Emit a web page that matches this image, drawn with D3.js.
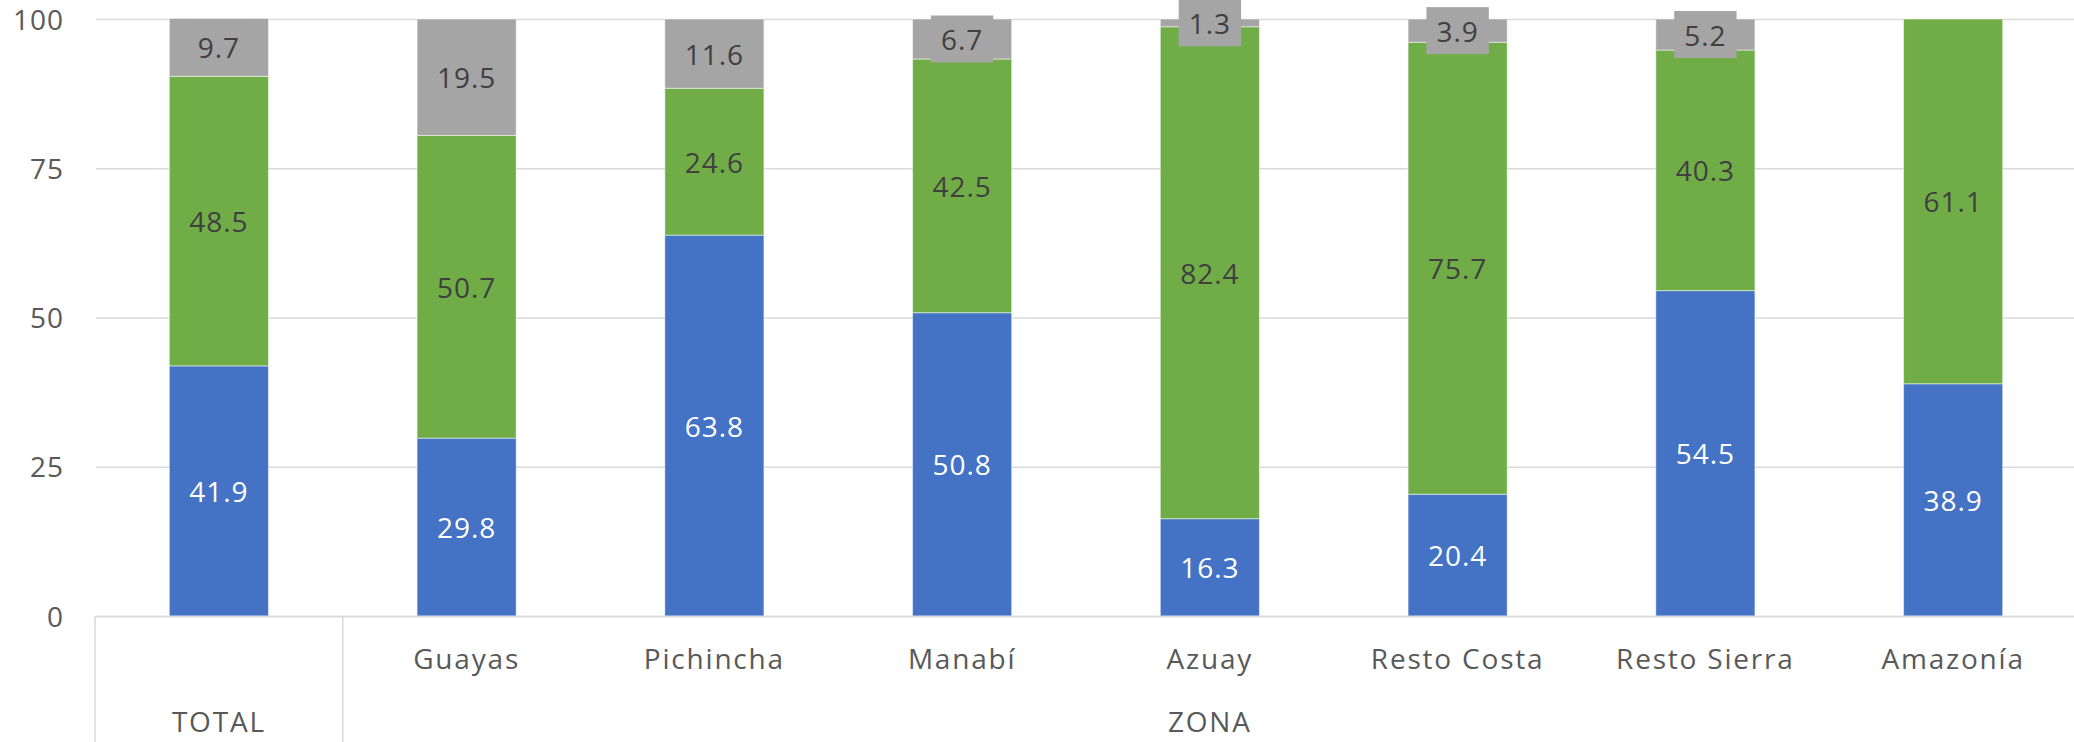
<!DOCTYPE html>
<html>
<head>
<meta charset="utf-8">
<script src="https://cdn.jsdelivr.net/npm/d3@7"></script>
<style>
  body { margin: 0; background: #fff; }
  svg text { font-family: "Open Sans", sans-serif; }
</style>
</head>
<body>
<script>
var svgWidth = 2074;
var svgHeight = 742;

// DATOS
var zonas = ["TOTAL", "Guayas", "Pichincha", "Manabí", "Azuay", "Resto Costa", "Resto Sierra", "Amazonía"];
var etiquetasZona = ["", "Guayas", "Pichincha", "Manabí", "Azuay", "Resto Costa", "Resto Sierra", "Amazonía"];
var grupos = ["TOTAL", "ZONA"];
var grupoDeZona = [0, 1, 1, 1, 1, 1, 1, 1];
var serieAzul = [41.9, 29.8, 63.8, 50.8, 16.3, 20.4, 54.5, 38.9];
var serieVerde = [48.5, 50.7, 24.6, 42.5, 82.4, 75.7, 40.3, 61.1];
var serieGris = [9.7, 19.5, 11.6, 6.7, 1.3, 3.9, 5.2, 0];
var yTicks = [0, 25, 50, 75, 100];

var series = ["azul", "verde", "gris"];
var colores = { azul: "#4472C4", verde: "#70AD47", gris: "#A5A5A5" };
var colorTexto = { azul: "#FFFFFF", verde: "#404040", gris: "#404040" };

var tabla = zonas.map(function(z, i) {
  return { zona: z, azul: serieAzul[i], verde: serieVerde[i], gris: serieGris[i] };
});

var margin = { top: 19, left: 95, bottom: 126 };
var plotBottom = svgHeight - margin.bottom;

var svg = d3.select("body")
  .append("svg")
  .attr("width", svgWidth)
  .attr("height", svgHeight);

// ESCALAS
var x = d3.scaleBand()
  .domain(zonas)
  .range([margin.left, margin.left + 8 * 247.75])
  .paddingInner(0.6)
  .paddingOuter(0.3);

var y = d3.scaleLinear()
  .domain([0, 100])
  .range([plotBottom, margin.top]);

// GRID
svg.append("g")
  .attr("transform", "translate(96,0)")
  .call(d3.axisLeft(y).tickValues(yTicks).tickSize(-(svgWidth - 96)).tickFormat(""))
  .call(function(g) { g.select(".domain").remove(); })
  .selectAll("line")
  .attr("stroke", "#D9D9D9")
  .attr("stroke-width", 1.5);

// EJE Y
svg.append("g")
  .attr("transform", "translate(96,0)")
  .call(d3.axisLeft(y).tickValues(yTicks).tickSize(0).tickPadding(32))
  .call(function(g) { g.select(".domain").remove(); })
  .selectAll("text")
  .attr("dy", "0.36em")
  .attr("fill", "#595959")
  .style("font-size", "28px")
  .style("letter-spacing", "1px");

// BARRAS APILADAS
var stack = d3.stack().keys(series);
var capas = stack(tabla);

var capaG = svg.selectAll(".capa")
  .data(capas)
  .enter()
  .append("g")
  .attr("fill", function(d) { return colores[d.key]; });

capaG.selectAll("rect")
  .data(function(d) { return d; })
  .enter()
  .append("rect")
  .attr("x", function(d) { return x(d.data.zona); })
  .attr("width", x.bandwidth())
  .attr("y", function(d) { return y(d[1]); })
  .attr("height", function(d) { return y(d[0]) - y(d[1]); })
  .attr("stroke", "#fff")
  .attr("stroke-width", 1)
  .attr("stroke-opacity", 0.5);

// ETIQUETAS
capas.forEach(function(capa) {
  capa.forEach(function(d) {
    var v = d.data[capa.key];
    if (!v) return;
    var cx = x(d.data.zona) + x.bandwidth() / 2;
    var cy = y((d[0] + d[1]) / 2);
    var g = svg.append("g");
    var box = g.append("rect").attr("fill", colores.gris);
    var t = g.append("text")
      .attr("x", cx)
      .attr("y", cy)
      .attr("text-anchor", "middle")
      .attr("dominant-baseline", "central")
      .attr("fill", colorTexto[capa.key])
      .style("font-size", "28px")
      .style("letter-spacing", "1px")
      .text(d3.format(".1f")(v));
    if (capa.key === "gris") {
      var w = t.node().getComputedTextLength() + 20;
      box.attr("x", cx - w / 2).attr("y", cy - 23.5).attr("width", w).attr("height", 47);
    } else {
      box.remove();
    }
  });
});

// EJE X MULTINIVEL
var axisG = svg.append("g").attr("stroke", "#D9D9D9").attr("stroke-width", 1.5);
axisG.append("line")
  .attr("x1", margin.left).attr("x2", svgWidth)
  .attr("y1", plotBottom + 0.5).attr("y2", plotBottom + 0.5);

var limites = [];
grupos.forEach(function(gname, gi) {
  var idx = zonas.filter(function(z, i) { return grupoDeZona[i] === gi; });
  var x0 = x(idx[0]) - x.step() * x.paddingInner() / 2;
  var x1 = x(idx[idx.length - 1]) + x.bandwidth() + x.step() * x.paddingInner() / 2;
  limites.push({ name: gname, x0: x0, x1: x1 });
});

limites.forEach(function(l) {
  axisG.append("line")
    .attr("x1", l.x0).attr("x2", l.x0)
    .attr("y1", plotBottom).attr("y2", svgHeight);
});

svg.selectAll(".subEtiqueta")
  .data(zonas)
  .enter()
  .append("text")
  .attr("class", "subEtiqueta")
  .attr("x", function(d) { return x(d) + x.bandwidth() / 2; })
  .attr("y", 669)
  .attr("text-anchor", "middle")
  .attr("fill", "#595959")
  .style("font-size", "28px")
  .style("letter-spacing", "1.8px")
  .text(function(d, i) { return etiquetasZona[i]; });

svg.selectAll(".grupoEtiqueta")
  .data(limites)
  .enter()
  .append("text")
  .attr("class", "grupoEtiqueta")
  .attr("x", function(d) { return (d.x0 + d.x1) / 2; })
  .attr("y", 732)
  .attr("text-anchor", "middle")
  .attr("fill", "#595959")
  .style("font-size", "28px")
  .style("letter-spacing", "1.8px")
  .text(function(d) { return d.name; });
</script>
</body>
</html>
